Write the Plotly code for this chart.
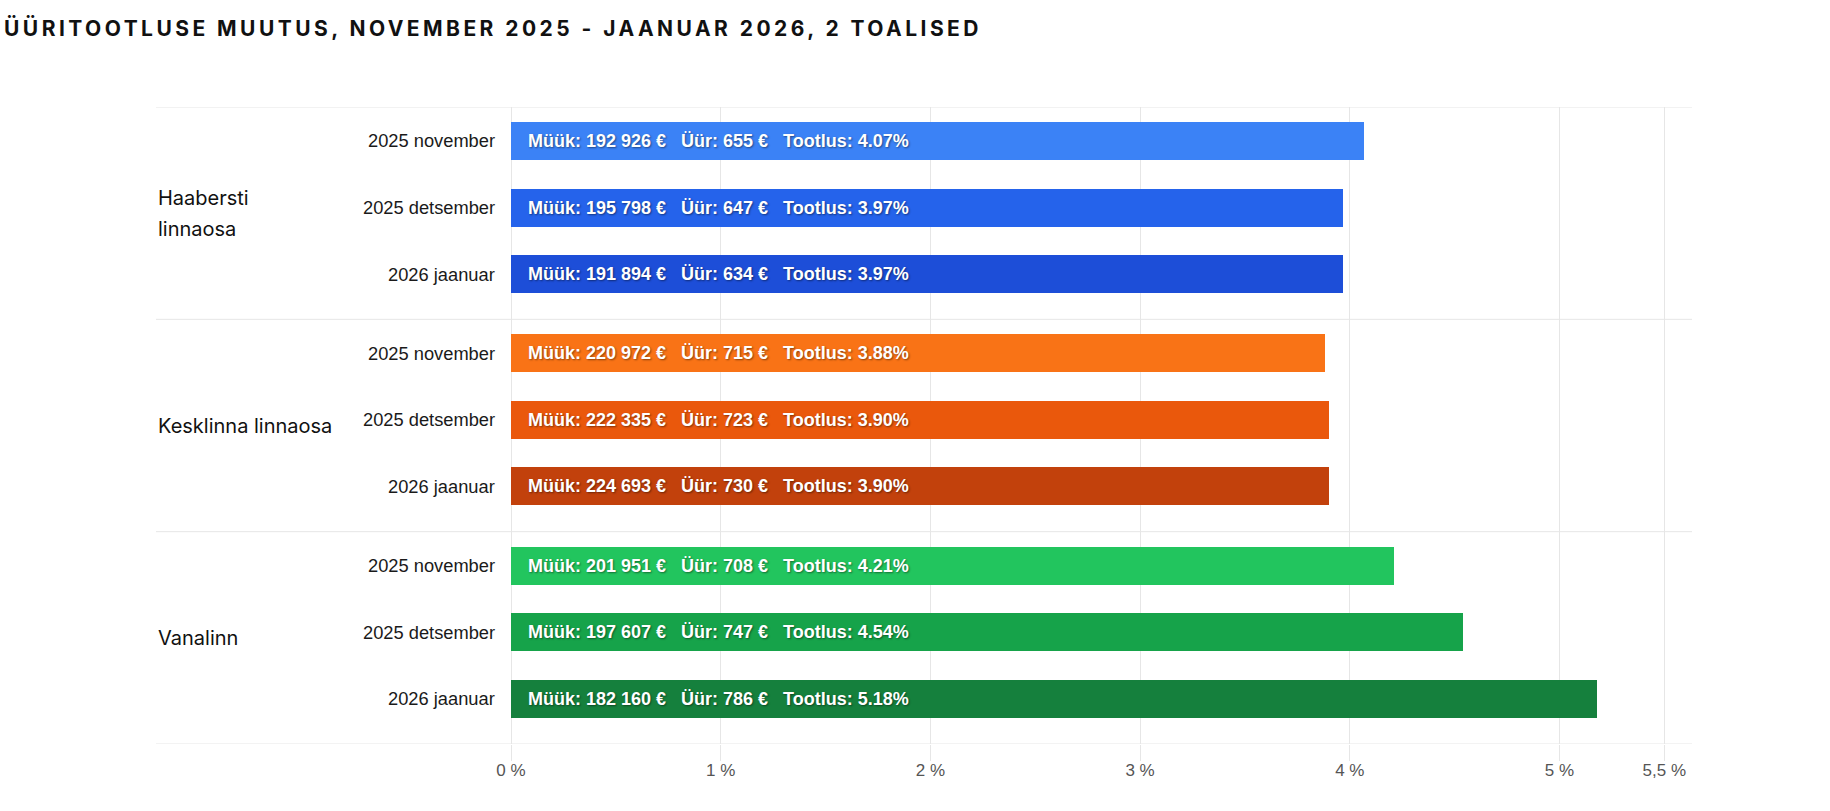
import plotly.graph_objects as go

title_text = "ÜÜRITOOTLUSE MUUTUS, NOVEMBER 2025 - JAANUAR 2026, 2 TOALISED"
group_lines = [["Haabersti", "linnaosa"], ["Kesklinna linnaosa"], ["Vanalinn"]]
months = ["2025 november", "2025 detsember", "2026 jaanuar"]

sale_prices = [
    [192926, 195798, 191894],
    [220972, 222335, 224693],
    [201951, 197607, 182160],
]
rents = [
    [655, 647, 634],
    [715, 723, 730],
    [708, 747, 786],
]
yields = [
    [4.07, 3.97, 3.97],
    [3.88, 3.90, 3.90],
    [4.21, 4.54, 5.18],
]
colors = [
    ["#3b82f6", "#2563eb", "#1d4ed8"],
    ["#f97316", "#ea580c", "#c2410c"],
    ["#22c55e", "#16a34a", "#15803d"],
]
tick_vals = [0, 1, 2, 3, 4, 5, 5.5]
tick_text = ["0 %", "1 %", "2 %", "3 %", "4 %", "5 %", "5,5 %"]

# layout constants (row units)
GROUP_SPAN = 3.19
ROW_OFFSET = 0.51
X_MAX = 5.632
LEFT_EDGE = -0.3006
GRID = "#e6e6e6"
LINE_H = 31


def fmt(v):
    return f"{v:,}".replace(",", " ")


fig = go.Figure()
annotations = []
for g in range(len(group_lines)):
    ys = [g * GROUP_SPAN + ROW_OFFSET + i for i in range(len(months))]
    fig.add_trace(go.Bar(
        x=yields[g], y=ys, orientation="h",
        marker=dict(color=colors[g], line=dict(width=0)),
        width=0.571, showlegend=False, hoverinfo="skip",
    ))
    for i, m in enumerate(months):
        annotations.append(dict(
            x=0, xref="paper", y=ys[i], yref="y", text=m, showarrow=False,
            xanchor="right", yanchor="middle", xshift=-14,
            font=dict(family="Arial, Liberation Sans", size=18.3, color="#1a1a1a"),
        ))
        label = (f"Müük: {fmt(sale_prices[g][i])} €   Üür: {rents[g][i]} €   "
                 f"Tootlus: {yields[g][i]:.2f}%")
        annotations.append(dict(
            x=0, xref="x", y=ys[i], yref="y", text=label, showarrow=False,
            xanchor="left", yanchor="middle", xshift=15,
            font=dict(family="Arial, Liberation Sans", size=18.0, color="#ffffff",
                      weight="bold", shadow="1px 1px 2px rgba(0,0,0,0.45)"),
        ))
    lines = group_lines[g]
    n = len(lines)
    for k, line in enumerate(lines):
        annotations.append(dict(
            x=LEFT_EDGE, xref="paper", y=g * GROUP_SPAN + GROUP_SPAN / 2, yref="y",
            yshift=-(k - (n - 1) / 2) * LINE_H,
            text=line, showarrow=False, xanchor="left", yanchor="middle",
            align="left", font=dict(family="Inter", size=20, color="#111111"),
        ))

shapes = []
for g in range(len(group_lines) + 1):
    shapes.append(dict(
        type="line", xref="paper", x0=LEFT_EDGE, x1=1, yref="y",
        y0=g * GROUP_SPAN, y1=g * GROUP_SPAN,
        line=dict(color=GRID, width=1), layer="below",
    ))

fig.update_layout(
    width=1830, height=811, autosize=False,
    margin=dict(l=511, r=138, t=107, b=67, pad=0),
    paper_bgcolor="white", plot_bgcolor="white",
    title=dict(
        text=f'<span style="letter-spacing:3.45px">{title_text}</span>',
        x=0.0022, xref="container", xanchor="left",
        y=1 - 29 / 811, yref="container", yanchor="middle",
        font=dict(family="Inter", size=21, color="#111111", weight="bold"),
    ),
    xaxis=dict(
        range=[0, X_MAX], tickvals=tick_vals, ticktext=tick_text,
        showgrid=True, gridcolor=GRID, gridwidth=1,
        zeroline=True, zerolinecolor=GRID, zerolinewidth=1,
        ticks="outside", ticklen=16, tickcolor=GRID, tickwidth=1,
        showline=False, ticklabelstandoff=-5,
        tickfont=dict(family="Arial, Liberation Sans", size=17, color="#555555"),
        fixedrange=True,
    ),
    yaxis=dict(
        range=[len(group_lines) * GROUP_SPAN, 0],
        showgrid=False, zeroline=False, showticklabels=False, showline=False,
        fixedrange=True,
    ),
    annotations=annotations, shapes=shapes,
    bargap=0,
)

fig.write_html("out.html", config={"displayModeBar": False})
